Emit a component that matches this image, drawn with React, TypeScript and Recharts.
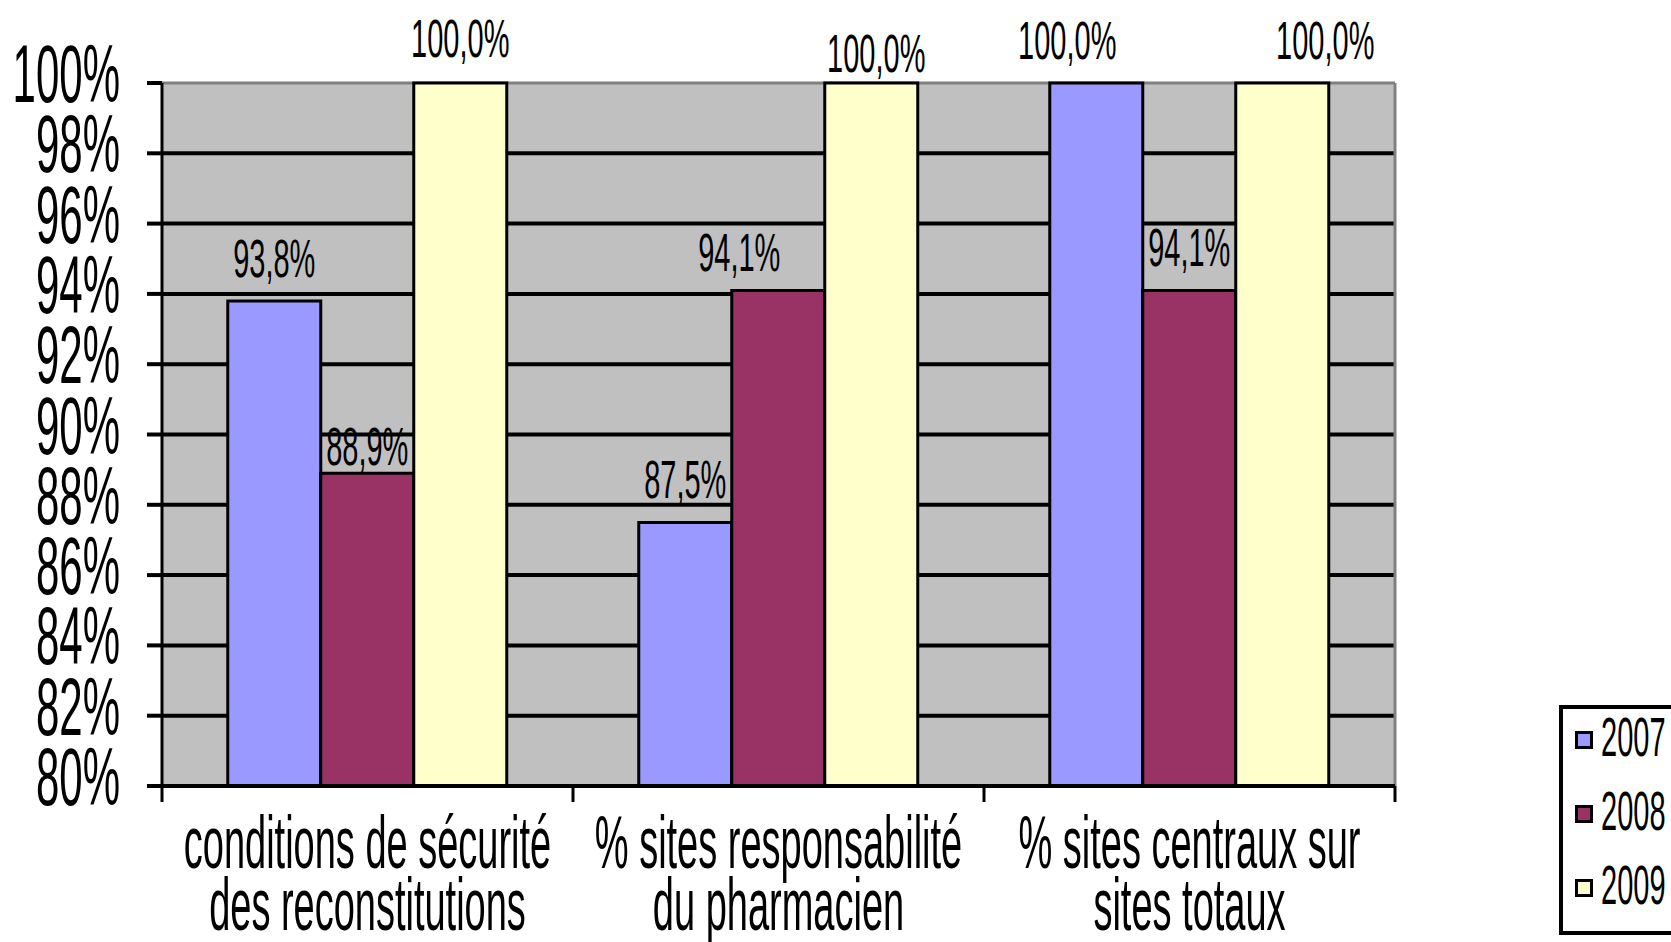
import React from "react"
import { BarChart, Bar, XAxis, YAxis, CartesianGrid, Legend, LabelList } from "recharts"

// categories are split in two lines as in the original
const categories = [
  ["conditions de sécurité", "des reconstitutions"],
  ["% sites responsabilité", "du pharmacien"],
  ["% sites centraux sur", "sites totaux"],
]
const years = ["2007", "2008", "2009"]
const values2007 = [93.8, 87.5, 100.0]
const values2008 = [88.9, 94.1, 94.1]
const values2009 = [100.0, 100.0, 100.0]
const yTicks = [80, 82, 84, 86, 88, 90, 92, 94, 96, 98, 100]
const gridValues = [82, 84, 86, 88, 90, 92, 94, 96, 98]
const colors = ["#9999FF", "#993366", "#FFFFCC"]

// label nudges (px) the way Excel moved them to avoid overlaps
const nudge2007 = [[0, 0], [0, 0], [-29, 0]]
const nudge2008 = [[0, 16], [-39, 5], [0, 0]]
const nudge2009 = [[0, -2], [5, 13], [43, 0]]

const W = 1671
const H = 942
const margin = { top: 83, right: 276, bottom: 0, left: 0 }
const yAxisWidth = 162
const xAxisHeight = 156
const band = (W - margin.left - margin.right - yAxisWidth) / categories.length
const font = "'Liberation Sans', Arial, sans-serif"

const series = [values2007, values2008, values2009]
const nudges = [nudge2007, nudge2008, nudge2009]
const data = categories.map((c, i) => {
  const row: Record<string, string | number> = { name: c.join("\n") }
  years.forEach((y, j) => {
    row[y] = series[j][i]
  })
  return row
})

const fmt = (v: number) => v.toFixed(1).replace(".", ",") + "%"

function YTick({ x, y, payload }: any) {
  return (
    <g transform={`translate(${x},${y + 19}) scale(1,1.93)`}>
      <text x={0} y={0} textAnchor="end" fontSize={42} fontFamily={font} fill="#000">
        {payload.value}%
      </text>
    </g>
  )
}

function XTick({ x, y, payload, index }: any) {
  const lines = String(payload.value).split("\n")
  const sy = 1.94
  return (
    <g>
      <line x1={x - band / 2} x2={x - band / 2} y1={y - 16} y2={y} stroke="#000" strokeWidth={3} />
      {index === categories.length - 1 && (
        <line x1={x + band / 2} x2={x + band / 2} y1={y - 16} y2={y} stroke="#000" strokeWidth={3} />
      )}
      <g transform={`translate(${x},${y + 66}) scale(1,${sy})`}>
        <text x={0} y={0} textAnchor="middle" fontSize={38} fontFamily={font} fill="#000">
          {lines.map((l, i) => (
            <tspan key={i} x={0} dy={i === 0 ? 0 : 62 / sy}>
              {l}
            </tspan>
          ))}
        </text>
      </g>
    </g>
  )
}

const makeLabel = (s: number) => (props: any) => {
  const x = Number(props.x)
  const y = Number(props.y)
  const w = Number(props.width)
  const [dx, dy] = nudges[s][props.index] || [0, 0]
  return (
    <g transform={`translate(${x + w / 2 + dx},${y - 24 + dy}) scale(1,1.82)`}>
      <text x={0} y={0} textAnchor="middle" fontSize={29} fontFamily={font} fill="#000">
        {fmt(Number(props.value))}
      </text>
    </g>
  )
}

function LegendBox() {
  return (
    <div
      style={{
        position: "relative",
        width: 140,
        height: 230,
        boxSizing: "border-box",
        border: "4px solid #000",
        background: "#fff",
        fontFamily: font,
      }}
    >
      {years.map((y, i) => {
        const cy = 27.5 + i * 74
        return (
          <div key={y}>
            <div
              style={{
                position: "absolute",
                left: 12,
                top: cy + 3 - 9,
                width: 18,
                height: 18,
                boxSizing: "border-box",
                border: "3px solid #000",
                background: colors[i],
              }}
            />
            <div
              style={{
                position: "absolute",
                left: 38,
                top: cy - 14,
                height: 28,
                lineHeight: "28px",
                fontSize: 29,
                color: "#000",
                transform: "scaleY(1.9)",
                transformOrigin: "center",
              }}
            >
              {y}
            </div>
          </div>
        )
      })}
    </div>
  )
}

export default function App() {
  return (
    <div style={{ position: "absolute", left: 0, top: 0, width: W, height: H, overflow: "hidden", background: "#fff" }}>
      <BarChart width={W} height={H} data={data} margin={margin} barGap={0} barCategoryGap="16%">
        <CartesianGrid
          vertical={false}
          horizontalValues={gridValues}
          stroke="#000"
          strokeWidth={4}
          fill="#C0C0C0"
          fillOpacity={1}
        />
        <CartesianGrid
          horizontalCoordinatesGenerator={({ offset }: any) => [offset.top]}
          verticalCoordinatesGenerator={({ offset }: any) => [offset.left + offset.width]}
          stroke="#808080"
          strokeWidth={3}
        />
        <XAxis
          dataKey="name"
          height={xAxisHeight}
          axisLine={{ stroke: "#000", strokeWidth: 4 }}
          tickLine={false}
          tickSize={16}
          tickMargin={0}
          interval={0}
          tick={<XTick />}
        />
        <YAxis
          width={yAxisWidth}
          domain={[80, 100]}
          ticks={yTicks}
          interval={0}
          axisLine={{ stroke: "#000", strokeWidth: 3 }}
          tickLine={{ stroke: "#000", strokeWidth: 4 }}
          tickSize={15}
          tickMargin={27}
          tick={<YTick />}
        />
        <Legend
          layout="horizontal"
          align="center"
          verticalAlign="middle"
          wrapperStyle={{ left: 1559, top: 705, width: 140, height: 230 }}
          content={() => <LegendBox />}
        />
        {years.map((y, i) => (
          <Bar key={y} dataKey={y} fill={colors[i]} stroke="#000" strokeWidth={3} isAnimationActive={false}>
            <LabelList dataKey={y} content={makeLabel(i)} />
          </Bar>
        ))}
      </BarChart>
    </div>
  )
}
